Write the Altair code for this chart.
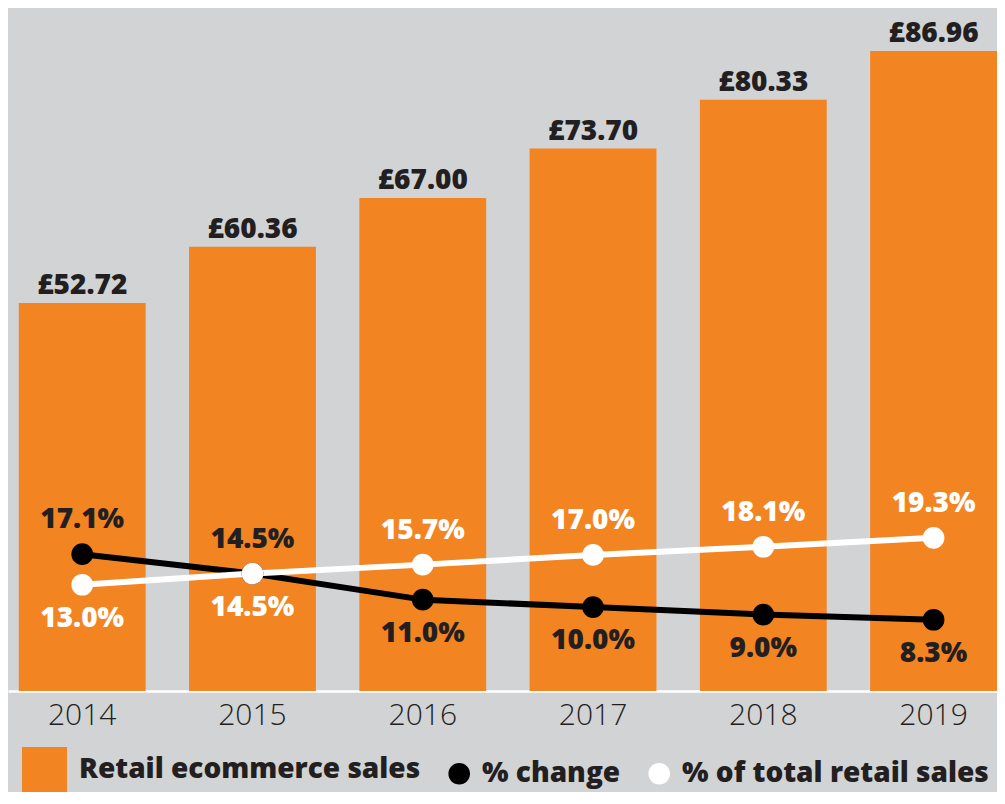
import altair as alt
import pandas as pd

years = ["2014", "2015", "2016", "2017", "2018", "2019"]
sales = [52.72, 60.36, 67.00, 73.70, 80.33, 86.96]
pct_change = [17.1, 14.5, 11.0, 10.0, 9.0, 8.3]
pct_share = [13.0, 14.5, 15.7, 17.0, 18.1, 19.3]
change_above = [True, True, False, False, False, False]
share_above = [False, False, True, True, True, True]

legend_names = ["Retail ecommerce sales", "% change", "% of total retail sales"]
legend_colors = ["#f38422", "#000000", "#ffffff"]
legend_shapes = [
    "M-1,-1H1V1H-1Z",
    "M0.04,0A0.48,0.48,0,1,1,1,0A0.48,0.48,0,1,1,0.04,0Z",
    "M0.04,0A0.48,0.48,0,1,1,1,0A0.48,0.48,0,1,1,0.04,0Z",
]

BG = "#d2d3d5"
ORANGE = "#f38422"
DARK = "#231f20"
FONT = "Open Sans"
HEAVY = 800

W, H = 989, 683

bars_df = pd.DataFrame({"year": years, "sales": sales})
lines_df = pd.DataFrame({
    "year": years * 2,
    "series": ["% change"] * 6 + ["% of total retail sales"] * 6,
    "value": pct_change + pct_share,
    "above": change_above + share_above,
})
legend_df = pd.DataFrame({"series": legend_names})

x_enc = alt.X(
    "year:N",
    title=None,
    sort=years,
    scale=alt.Scale(paddingInner=0.255, paddingOuter=0.0317, align=1),
    axis=alt.Axis(
        labelFont=FONT, labelFontSize=30, labelFontWeight=300, labelColor=DARK,
        labelAngle=0, labelPadding=9, ticks=False, grid=False,
        domainColor="#ffffff", domainWidth=2.5,
    ),
)

ybar = alt.Y("sales:Q", scale=alt.Scale(domain=[0, 92.8]), axis=None)

bars = alt.Chart(bars_df).mark_bar(color=ORANGE).encode(x=x_enc, y=ybar)
bar_labels = alt.Chart(bars_df).transform_calculate(
    label="'£' + format(datum.sales, '.2f')"
).mark_text(
    font=FONT, fontSize=28, fontWeight=HEAVY, color=DARK, baseline="alphabetic", dy=-9
).encode(x=x_enc, y=ybar, text="label:N")

bar_group = alt.layer(bars, bar_labels)

yline = alt.Y("value:Q", scale=alt.Scale(domain=[-1.26, 90.4]), axis=None)

def series_layers(name, color, text_color):
    base = alt.Chart(lines_df).transform_filter(alt.datum.series == name)
    line = base.mark_line(color=color, strokeWidth=6, strokeJoin="round").encode(x=x_enc, y=yline)
    pts = base.mark_circle(color=color, size=470, opacity=1).encode(x=x_enc, y=yline)
    lab = base.transform_calculate(label="format(datum.value, '.1f') + '%'")
    above = lab.transform_filter(alt.datum.above == True).mark_text(
        font=FONT, fontSize=28, fontWeight=HEAVY, color=text_color, baseline="alphabetic", dy=-26
    ).encode(x=x_enc, y=yline, text="label:N")
    below = lab.transform_filter(alt.datum.above == False).mark_text(
        font=FONT, fontSize=28, fontWeight=HEAVY, color=text_color, baseline="alphabetic", dy=42
    ).encode(x=x_enc, y=yline, text="label:N")
    return [line, pts, above, below]

ch = series_layers("% change", "#000000", DARK)
sh = series_layers("% of total retail sales", "#ffffff", "#ffffff")
line_group = alt.layer(ch[0], sh[0], ch[1], sh[1], ch[2], ch[3], sh[2], sh[3])

leg = alt.Legend(
    orient="none", legendX=14, legendY=739, direction="horizontal", title=None,
    symbolSize=2025, symbolStrokeWidth=0, symbolOpacity=1, labelFont=FONT,
    labelFontSize=28, labelFontWeight=HEAVY, labelColor=DARK, labelOffset=12,
    columnPadding=4, padding=0, labelLimit=600,
)
legend_layer = alt.Chart(legend_df).mark_point(filled=True, opacity=0).encode(
    color=alt.Color("series:N", scale=alt.Scale(domain=legend_names, range=legend_colors), legend=leg),
    shape=alt.Shape("series:N", scale=alt.Scale(domain=legend_names, range=legend_shapes), legend=leg),
)

chart = alt.layer(bar_group, line_group, legend_layer).resolve_scale(
    y="independent"
).properties(
    width=W, height=H,
    autosize=alt.AutoSizeParams(type="none"),
    padding={"left": 0, "top": 0, "right": 0, "bottom": 101},
).configure(background=BG).configure_view(stroke=None)

chart.save("out.html", embed_options={"renderer": "svg", "actions": False})
